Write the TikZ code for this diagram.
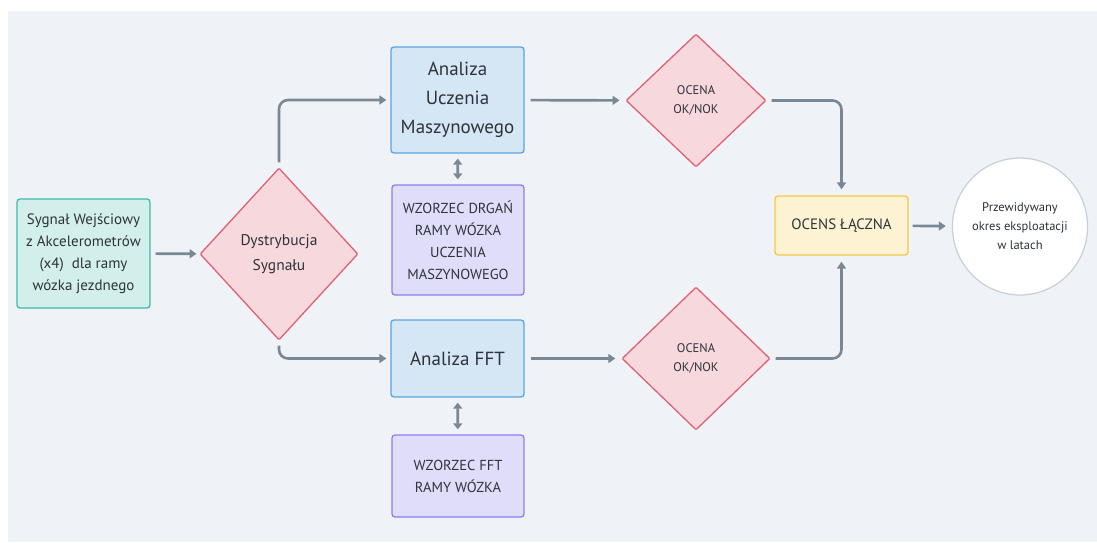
\documentclass[tikz,border=0pt]{standalone}
\usepackage{fontspec}
\setmainfont{PT Sans}
\usetikzlibrary{arrows.meta,shapes.geometric}
\definecolor{bgc}{HTML}{EFF3F7}
\definecolor{txt}{HTML}{2E333A}
\definecolor{conn}{HTML}{7A8795}
\definecolor{tealfill}{HTML}{D2EFEC}
\definecolor{tealline}{HTML}{3DBBA6}
\definecolor{redfill}{HTML}{F7D8DC}
\definecolor{redline}{HTML}{E06173}
\definecolor{bluefill}{HTML}{D5E6F5}
\definecolor{blueline}{HTML}{59A6E2}
\definecolor{purpfill}{HTML}{E0DDFB}
\definecolor{purpline}{HTML}{8A7DF2}
\definecolor{yelfill}{HTML}{FDF2D1}
\definecolor{yelline}{HTML}{F6C845}
\definecolor{circline}{HTML}{C9D1DB}
\tikzset{
  box/.style={draw, line width=1.3pt, rounded corners=3pt, align=center, inner sep=0pt, text=txt},
  inbox/.style={box, fill=tealfill, draw=tealline},
  anbox/.style={box, fill=bluefill, draw=blueline},
  patbox/.style={box, fill=purpfill, draw=purpline},
  sumbox/.style={box, fill=yelfill, draw=yelline},
  decis/.style={diamond, draw=redline, fill=redfill, line width=1.3pt, align=center, inner sep=0pt, text=txt, rounded corners=1pt},
  endcirc/.style={ellipse, draw=circline, fill=white, line width=1.3pt, align=center, inner sep=0pt, text=txt},
  link/.style={draw=conn, line width=2.6pt, -{Triangle[length=7pt,width=9pt]}},
  twoway/.style={draw=conn, line width=2.6pt, {Triangle[length=6pt,width=9pt]}-{Triangle[length=6pt,width=9pt]}},
}
\begin{document}
\begin{tikzpicture}[x=1pt,y=-1pt]
\useasboundingbox (0,0) rectangle (1097,542);
\fill[bgc] (8,11) rectangle (1097,542);

% nodes
\node[inbox, minimum width=133pt, minimum height=109pt, font=\fontsize{15}{22}\selectfont] (in) at (83.5,253.5)
  {Sygnał Wejściowy\\z Akcelerometrów\\(x4)\ \ dla ramy\\wózka jezdnego};
\node[decis, minimum width=158pt, minimum height=172pt, font=\fontsize{15.5}{25}\selectfont] (dist) at (279,254)
  {Dystrybucja\\Sygnału};
\node[anbox, minimum width=133pt, minimum height=106pt, font=\fontsize{19}{29}\selectfont] (ml) at (457.5,100)
  {Analiza\\Uczenia\\Maszynowego};
\node[patbox, minimum width=132pt, minimum height=110pt, font=\fontsize{14.5}{22}\selectfont] (mlpat) at (458,240)
  {WZORZEC DRGAŃ\\RAMY WÓZKA\\UCZENIA\\MASZYNOWEGO};
\node[anbox, minimum width=133pt, minimum height=77pt, font=\fontsize{19}{29}\selectfont] (fft) at (457.5,358.5)
  {Analiza FFT};
\node[patbox, minimum width=132pt, minimum height=82pt, font=\fontsize{14.5}{22}\selectfont] (fftpat) at (458,476)
  {WZORZEC FFT\\RAMY WÓZKA};
\node[decis, minimum width=140pt, minimum height=133pt, font=\fontsize{12.5}{19}\selectfont] (ok1) at (696,100.5)
  {OCENA\\OK/NOK};
\node[decis, minimum width=148pt, minimum height=143pt, font=\fontsize{12.5}{19}\selectfont] (ok2) at (696,358.5)
  {OCENA\\OK/NOK};
\node[sumbox, minimum width=133pt, minimum height=59pt, font=\fontsize{15}{22}\selectfont] (sum) at (841.5,225.5)
  {OCENS ŁĄCZNA};
\node[endcirc, minimum width=124pt, minimum height=137pt, font=\fontsize{12.5}{19}\selectfont] (life) at (1020,226.5)
  {Przewidywany\\okres eksploatacji\\w latach};

% connectors
\draw[link, shorten <=5pt, shorten >=3pt] (in) -- (dist);
\draw[link, rounded corners=9pt, shorten <=5pt, shorten >=4pt] (dist.north) |- (ml.west);
\draw[link, rounded corners=9pt, shorten <=5pt, shorten >=4pt] (dist.south) |- (fft.west);
\draw[twoway, shorten <=5pt, shorten >=5pt] (ml) -- (mlpat);
\draw[twoway, shorten <=5pt, shorten >=5pt] (fft) -- (fftpat);
\draw[link, shorten <=6pt, shorten >=6pt] (ml) -- (ok1);
\draw[link, shorten <=6pt, shorten >=6pt] (fft) -- (ok2);
\draw[link, rounded corners=9pt, shorten <=5pt, shorten >=6pt] (ok1.east) -| (sum.north);
\draw[link, rounded corners=9pt, shorten <=5pt, shorten >=6pt] (ok2.east) -| (sum.south);
\draw[link, shorten <=4pt, shorten >=6pt] (sum) -- (life);
\end{tikzpicture}
\end{document}
